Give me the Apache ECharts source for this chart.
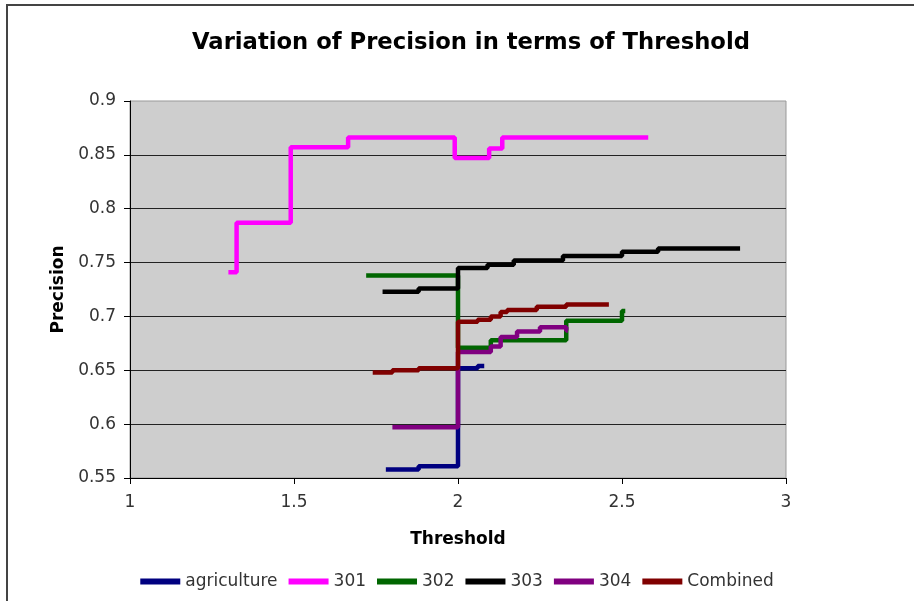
<!DOCTYPE html>
<html>
<head>
<meta charset="utf-8">
<script src="https://cdn.jsdelivr.net/npm/echarts@6/dist/echarts.min.js"></script>
<style>
  html, body { margin: 0; padding: 0; background: #fff; }
  #chart { width: 914px; height: 601px; }
</style>
</head>
<body>
<div id="chart"></div>
<script>
// [threshold, precision] pairs; each value holds until the next threshold
const agriculture = [[1.78, 0.558], [1.88, 0.561], [2.00, 0.652], [2.06, 0.654], [2.08, 0.654]]
const s301 = [[1.30, 0.741], [1.325, 0.787], [1.49, 0.857], [1.665, 0.866], [1.99, 0.847], [2.095, 0.856], [2.135, 0.866], [2.58, 0.866]]
const s302 = [[1.72, 0.738], [2.00, 0.671], [2.10, 0.678], [2.33, 0.696], [2.50, 0.705], [2.51, 0.705]]
const s303 = [[1.77, 0.723], [1.88, 0.726], [2.00, 0.745], [2.09, 0.748], [2.17, 0.752], [2.32, 0.756], [2.50, 0.760], [2.61, 0.763], [2.86, 0.763]]
const s304 = [[1.80, 0.597], [2.00, 0.667], [2.10, 0.672], [2.13, 0.681], [2.18, 0.686], [2.25, 0.690], [2.33, 0.687], [2.335, 0.687]]
const combined = [[1.74, 0.648], [1.80, 0.650], [1.88, 0.652], [2.00, 0.695], [2.06, 0.697], [2.10, 0.700], [2.13, 0.704], [2.15, 0.706], [2.24, 0.709], [2.33, 0.711], [2.46, 0.711]]

const seriesNames = ['agriculture', '301', '302', '303', '304', 'Combined']
const seriesData = [agriculture, s301, s302, s303, s304, combined]
const seriesColors = ['#000080', '#ff00ff', '#006600', '#000000', '#800080', '#800000']

const font = '"DejaVu Sans", Verdana, sans-serif'

const chart = echarts.init(document.getElementById('chart'), null, { renderer: 'canvas' })

chart.setOption({
  animation: false,
  backgroundColor: '#ffffff',
  textStyle: { fontFamily: font },
  title: {
    text: 'Variation of Precision in terms of Threshold',
    left: 187,
    top: 27,
    textStyle: { fontSize: 22.7, fontWeight: 'bold', color: '#000', fontFamily: font }
  },
  graphic: [{
    type: 'rect',
    shape: { x: 7, y: 5, width: 1000, height: 1000 },
    style: { fill: 'none', stroke: '#444', lineWidth: 2 },
    silent: true
  }],
  legend: {
    data: seriesNames,
    bottom: 6,
    left: 'center',
    icon: 'rect',
    itemWidth: 40,
    itemHeight: 6,
    itemGap: 11,
    textStyle: { fontSize: 17, color: '#333', fontFamily: font }
  },
  grid: {
    left: 130, right: 128, top: 101, bottom: 123,
    show: true,
    backgroundColor: '#cecece',
    borderColor: '#999',
    borderWidth: 1
  },
  xAxis: {
    type: 'value',
    min: 1, max: 3, interval: 0.5,
    name: 'Threshold',
    nameLocation: 'middle',
    nameGap: 53,
    nameTextStyle: { fontSize: 17, fontWeight: 'bold', color: '#000' },
    axisLine: { onZero: false, lineStyle: { color: '#000', width: 1 } },
    axisTick: { length: 6, lineStyle: { color: '#000' } },
    axisLabel: { fontSize: 17, color: '#333', margin: 16 },
    splitLine: { show: false }
  },
  yAxis: {
    type: 'value',
    min: 0.55, max: 0.9, interval: 0.05,
    name: 'Precision',
    nameLocation: 'middle',
    nameGap: 63,
    nameTextStyle: { fontSize: 17, fontWeight: 'bold', color: '#000' },
    axisLine: { show: true, onZero: false, lineStyle: { color: '#000', width: 1 } },
    axisTick: { show: true, length: 6, lineStyle: { color: '#000' } },
    axisLabel: { fontSize: 17, color: '#333', margin: 14 },
    splitLine: { show: true, showMaxLine: false, lineStyle: { color: '#222', width: 1 } }
  },
  series: seriesNames.map((name, i) => ({
    name,
    type: 'line',
    step: 'end',
    data: seriesData[i],
    showSymbol: false,
    color: seriesColors[i],
    lineStyle: { width: 4.5, color: seriesColors[i] }
  }))
})
</script>
</body>
</html>
